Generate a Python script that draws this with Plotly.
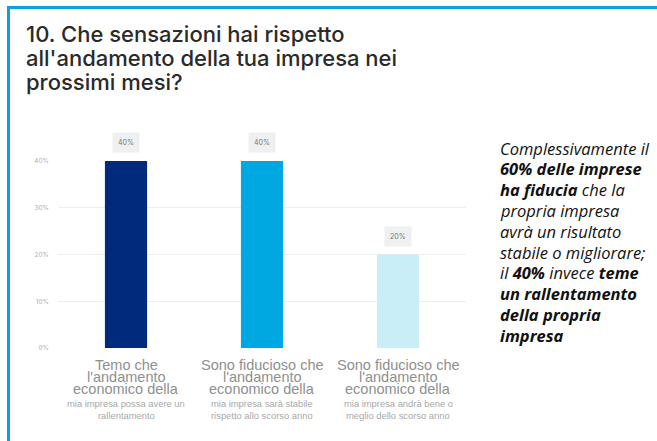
import plotly.graph_objects as go

categories = ["c1", "c2", "c3"]
values = [40, 40, 20]
bar_colors = ["#012a7c", "#00a8e2", "#c9eef8"]
value_labels = ["40%", "40%", "20%"]
cat_main_lines = [
    ["Temo che", "l'andamento", "economico della"],
    ["Sono fiducioso che", "l'andamento", "economico della"],
    ["Sono fiducioso che", "l'andamento", "economico della"],
]
cat_sub_lines = [
    ["mia impresa possa avere un", "rallentamento"],
    ["mia impresa sarà stabile", "rispetto allo scorso anno"],
    ["mia impresa andrà bene o", "meglio dello scorso anno"],
]
tick_vals = [0, 10, 20, 30, 40]
tick_text = ["0%", "10%", "20%", "30%", "40%"]
title_lines = [
    "10. Che sensazioni hai rispetto",
    "all'andamento della tua impresa nei",
    "prossimi mesi?",
]
side_lines = [
    "<i>Complessivamente il</i>",
    "<b><i>60% delle imprese</i></b>",
    "<b><i>ha fiducia</i></b><i> che la</i>",
    "<i>propria impresa</i>",
    "<i>avrà un risultato</i>",
    "<i>stabile o migliorare;</i>",
    "<i>il </i><b><i>40%</i></b><i> invece </i><b><i>teme</i></b>",
    "<b><i>un rallentamento</i></b>",
    "<b><i>della propria</i></b>",
    "<b><i>impresa</i></b>",
]

W, H = 657, 441
ml, mr, mt, mb = 58, 191, 161, 93
PW, PH = W - ml - mr, H - mt - mb


def px_x(px):
    return (px - ml) / PW


def px_y(py):
    return (H - mb - py) / PH


fig = go.Figure()
fig.add_trace(go.Bar(
    x=categories, y=values, marker=dict(color=bar_colors, line=dict(width=0)),
    width=0.31, hoverinfo="skip",
))

ann = []
for c, v, t in zip(categories, values, value_labels):
    ann.append(dict(x=c, y=v, xref="x", yref="y", text=t, showarrow=False,
                    yanchor="bottom", yshift=8, bgcolor="#eef0f2", borderpad=5,
                    font=dict(family="Inter", size=7, color="#777")))

for c, mains, subs in zip(categories, cat_main_lines, cat_sub_lines):
    for i, line in enumerate(mains):
        ann.append(dict(x=c, xref="x", y=px_y(365 + i * 12), yref="paper",
                        text=line, showarrow=False, yanchor="middle",
                        font=dict(family="Liberation Sans", size=14.5, color="#8f8f8f")))
    for i, line in enumerate(subs):
        ann.append(dict(x=c, xref="x", y=px_y(403 + i * 12), yref="paper",
                        text=line, showarrow=False, yanchor="middle",
                        font=dict(family="Liberation Sans", size=9.4, color="#a8a8a8")))

for i, line in enumerate(title_lines):
    ann.append(dict(x=px_x(24), y=px_y(34 + i * 24), xref="paper", yref="paper",
                    xanchor="left", yanchor="middle", text=line, showarrow=False,
                    font=dict(family="Inter", size=22, color="#2a2a2a", weight=500)))

for i, line in enumerate(side_lines):
    ann.append(dict(x=px_x(498), y=px_y(148 + i * 20.8), xref="paper", yref="paper",
                    xanchor="left", yanchor="middle", text=line, showarrow=False,
                    font=dict(family="Open Sans", size=16.5, color="#111")))

shapes = [
    dict(type="line", xref="paper", yref="paper", x0=px_x(7), x1=px_x(W + 2),
         y0=px_y(7.5), y1=px_y(7.5), line=dict(color="#0aa0e2", width=3)),
    dict(type="line", xref="paper", yref="paper", x0=px_x(8.5), x1=px_x(8.5),
         y0=px_y(6), y1=px_y(H + 2), line=dict(color="#0aa0e2", width=3)),
]

fig.update_layout(
    width=W, height=H, margin=dict(l=ml, r=mr, t=mt, b=mb),
    paper_bgcolor="white", plot_bgcolor="white", showlegend=False,
    xaxis=dict(showticklabels=False, showgrid=False, zeroline=False, showline=False,
               ticks=""),
    yaxis=dict(range=[0, 40], tickvals=tick_vals, ticktext=tick_text,
               showgrid=True, gridcolor="#eeeeee", gridwidth=1, zeroline=False,
               showline=False, ticks="", ticklabelstandoff=8,
               tickfont=dict(family="Inter", size=6.5, color="#b0b0b0")),
    annotations=ann,
    shapes=shapes,
)
fig.write_html("out.html")
